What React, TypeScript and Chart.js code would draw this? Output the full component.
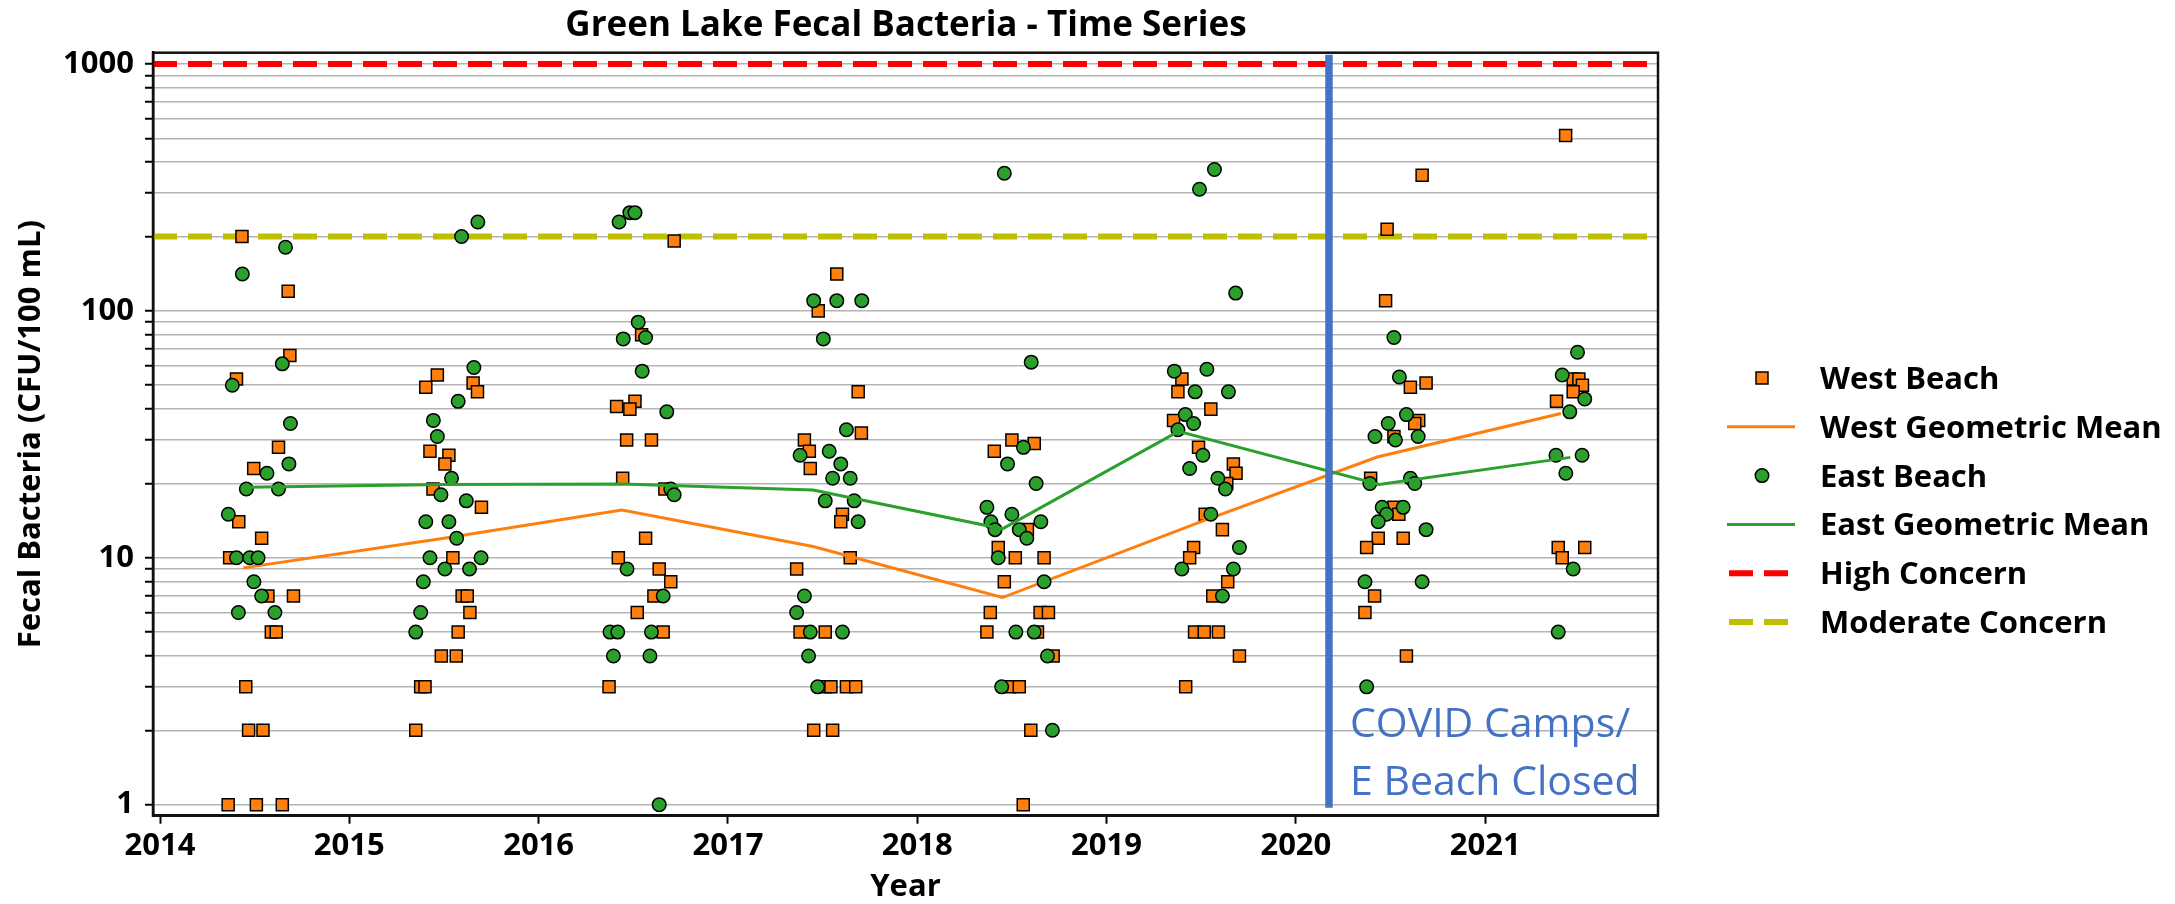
import React, { useEffect, useRef } from 'react';
import { Chart, registerables } from 'chart.js';

Chart.register(...registerables);

// ---------------- data ----------------
const yearTicks = [2014, 2015, 2016, 2017, 2018, 2019, 2020, 2021];
const yLabelTicks = [1, 10, 100, 1000];
const yMinorSteps = [1, 2, 3, 4, 5, 6, 7, 8, 9];

const highConcern = 1000;
const moderateConcern = 200;
const covidDate = 2020.175;

// [decimal year, CFU/100 mL]
const westBeach: [number, number][] = [
  [2014.433, 200], [2014.677, 120], [2014.686, 66], [2014.404, 53], [2014.626, 28], [2014.495, 23],
  [2014.416, 14], [2014.537, 12], [2014.368, 10], [2014.570, 7], [2014.705, 7], [2014.588, 5],
  [2014.614, 5], [2014.453, 3], [2014.468, 2], [2014.544, 2], [2014.360, 1], [2014.509, 1], [2014.646, 1],
  [2015.465, 55], [2015.404, 49], [2015.654, 51], [2015.677, 47], [2015.426, 27], [2015.526, 26],
  [2015.505, 24], [2015.442, 19], [2015.698, 16], [2015.547, 10], [2015.596, 7], [2015.623, 7],
  [2015.637, 6], [2015.575, 5], [2015.486, 4], [2015.565, 4], [2015.377, 3], [2015.400, 3], [2015.351, 2],
  [2016.716, 192], [2016.509, 43], [2016.412, 41], [2016.482, 40], [2016.465, 30], [2016.596, 30],
  [2016.544, 80], [2016.444, 21], [2016.667, 19], [2016.565, 12], [2016.421, 10], [2016.637, 9],
  [2016.698, 8], [2016.609, 7], [2016.521, 6], [2016.658, 5], [2016.372, 3],
  [2017.575, 141], [2017.477, 100], [2017.688, 47], [2017.705, 32], [2017.404, 30], [2017.430, 27],
  [2017.435, 23], [2017.605, 15], [2017.596, 14], [2017.646, 10], [2017.363, 9], [2017.381, 5],
  [2017.514, 5], [2017.518, 3], [2017.544, 3], [2017.626, 3], [2017.675, 3], [2017.453, 2], [2017.553, 2],
  [2018.500, 30], [2018.407, 27], [2018.618, 29], [2018.582, 13], [2018.428, 11], [2018.518, 10],
  [2018.670, 10], [2018.460, 8], [2018.386, 6], [2018.649, 6], [2018.693, 6], [2018.368, 5],
  [2018.635, 5], [2018.718, 4], [2018.489, 3], [2018.539, 3], [2018.600, 2], [2018.560, 1],
  [2019.398, 53], [2019.377, 47], [2019.354, 36], [2019.551, 40], [2019.486, 28], [2019.670, 24],
  [2019.684, 22], [2019.635, 20], [2019.521, 15], [2019.612, 13], [2019.460, 11], [2019.439, 10],
  [2019.640, 8], [2019.561, 7], [2019.465, 5], [2019.516, 5], [2019.591, 5], [2019.702, 4], [2019.418, 3],
  [2020.667, 354], [2020.482, 214], [2020.474, 110], [2020.605, 49], [2020.688, 51], [2020.649, 36],
  [2020.628, 35], [2020.518, 31], [2020.395, 21], [2020.518, 16], [2020.544, 15], [2020.435, 12],
  [2020.567, 12], [2020.374, 11], [2020.416, 7], [2020.365, 6], [2020.584, 4],
  [2021.425, 513], [2021.465, 53], [2021.495, 53], [2021.514, 50], [2021.465, 47], [2021.377, 43],
  [2021.386, 11], [2021.526, 11], [2021.407, 10],
];

const eastBeach: [number, number][] = [
  [2014.663, 181], [2014.435, 141], [2014.646, 61], [2014.382, 50], [2014.689, 35], [2014.681, 24],
  [2014.565, 22], [2014.456, 19], [2014.626, 19], [2014.361, 15], [2014.404, 10], [2014.474, 10],
  [2014.518, 10], [2014.496, 8], [2014.537, 7], [2014.414, 6], [2014.607, 6],
  [2015.593, 200], [2015.679, 229], [2015.658, 59], [2015.575, 43], [2015.444, 36], [2015.465, 31],
  [2015.540, 21], [2015.484, 18], [2015.618, 17], [2015.404, 14], [2015.526, 14], [2015.567, 12],
  [2015.426, 10], [2015.696, 10], [2015.505, 9], [2015.635, 9], [2015.391, 8], [2015.377, 6], [2015.351, 5],
  [2016.425, 229], [2016.482, 250], [2016.509, 250], [2016.526, 90], [2016.447, 77], [2016.565, 78],
  [2016.547, 57], [2016.677, 39], [2016.698, 19], [2016.716, 18], [2016.467, 9], [2016.658, 7],
  [2016.377, 5], [2016.418, 5], [2016.596, 5], [2016.395, 4], [2016.588, 4], [2016.637, 1],
  [2017.453, 110], [2017.575, 110], [2017.707, 110], [2017.504, 77], [2017.626, 33], [2017.381, 26],
  [2017.535, 27], [2017.596, 24], [2017.553, 21], [2017.646, 21], [2017.514, 17], [2017.667, 17],
  [2017.688, 14], [2017.404, 7], [2017.363, 6], [2017.435, 5], [2017.605, 5], [2017.426, 4], [2017.474, 3],
  [2018.460, 361], [2018.602, 62], [2018.561, 28], [2018.477, 24], [2018.628, 20], [2018.368, 16],
  [2018.389, 14], [2018.500, 15], [2018.653, 14], [2018.411, 13], [2018.539, 13], [2018.579, 12],
  [2018.428, 10], [2018.670, 8], [2018.521, 5], [2018.618, 5], [2018.688, 4], [2018.446, 3], [2018.714, 2],
  [2019.570, 374], [2019.491, 311], [2019.682, 118], [2019.358, 57], [2019.530, 58], [2019.468, 47],
  [2019.644, 47], [2019.416, 38], [2019.460, 35], [2019.377, 33], [2019.509, 26], [2019.439, 23],
  [2019.588, 21], [2019.628, 19], [2019.551, 15], [2019.702, 11], [2019.398, 9], [2019.670, 9], [2019.612, 7],
  [2020.518, 78], [2020.547, 54], [2020.584, 38], [2020.488, 35], [2020.418, 31], [2020.526, 30],
  [2020.646, 31], [2020.391, 20], [2020.605, 21], [2020.628, 20], [2020.456, 16], [2020.567, 16],
  [2020.479, 15], [2020.435, 14], [2020.688, 13], [2020.365, 8], [2020.667, 8], [2020.374, 3],
  [2021.488, 68], [2021.407, 55], [2021.526, 44], [2021.447, 39], [2021.374, 26], [2021.512, 26],
  [2021.426, 22], [2021.465, 9], [2021.386, 5],
];

const westGeoMean: [number, number][] = [
  [2014.44, 9.1], [2015.5, 12.0], [2016.44, 15.6], [2017.45, 11.1],
  [2018.45, 6.9], [2019.5, 14.0], [2020.43, 25.6], [2021.40, 38.4],
];

const eastGeoMean: [number, number][] = [
  [2014.456, 19.3], [2015.5, 19.8], [2016.44, 19.9], [2017.45, 18.8],
  [2018.45, 13.1], [2019.38, 32.5], [2020.44, 19.8], [2021.45, 25.5],
];

// ---------------- styles ----------------
const WEST = '#ff7f0e';
const EAST = '#2ca02c';
const HIGH = '#ff0000';
const MOD = '#bfbf00';
const COVID = '#4472c4';
const FONT = '"Open Sans", "Noto Sans", sans-serif';

const X_MIN = 2013.963;
const X_MAX = 2021.913;
const Y_MIN = 0.902;
const Y_MAX = 1111;

const toXY = (arr: [number, number][]) => arr.map(([x, y]) => ({ x, y }));
const yGridValues = yLabelTicks.flatMap((d) => (d === 1000 ? [d] : yMinorSteps.map((m) => m * d)));

const legendItems = [
  { label: 'West Beach', kind: 'rect', color: WEST },
  { label: 'West Geometric Mean', kind: 'line', color: WEST },
  { label: 'East Beach', kind: 'circle', color: EAST },
  { label: 'East Geometric Mean', kind: 'line', color: EAST },
  { label: 'High Concern', kind: 'dash', color: HIGH },
  { label: 'Moderate Concern', kind: 'dash', color: MOD },
];

const decorPlugin = {
  id: 'decor',
  afterDatasetsDraw(chart: any) {
    const { ctx, chartArea, scales } = chart;
    ctx.save();
    // frame
    ctx.strokeStyle = '#111';
    ctx.lineWidth = 2.5;
    ctx.strokeRect(chartArea.left, chartArea.top, chartArea.right - chartArea.left, chartArea.bottom - chartArea.top);

    // COVID marker line
    const cx = scales.x.getPixelForValue(covidDate);
    ctx.strokeStyle = COVID;
    ctx.lineWidth = 7.5;
    ctx.lineCap = 'butt';
    ctx.beginPath();
    ctx.moveTo(cx, chartArea.top + 2);
    ctx.lineTo(cx, chartArea.bottom - 8);
    ctx.stroke();

    ctx.fillStyle = COVID;
    ctx.font = `41px ${FONT}`;
    ctx.textAlign = 'left';
    ctx.textBaseline = 'alphabetic';
    ctx.fillText('COVID Camps/', cx + 21, chartArea.bottom - 79);
    ctx.fillText('E Beach Closed', cx + 21, chartArea.bottom - 21);
    ctx.restore();
  },
  afterDraw(chart: any) {
    const { ctx } = chart;
    ctx.save();
    // title
    ctx.fillStyle = '#000';
    ctx.font = `bold 35px ${FONT}`;
    ctx.textAlign = 'center';
    ctx.textBaseline = 'alphabetic';
    ctx.fillText('Green Lake Fecal Bacteria - Time Series', 906, 36);

    // legend
    const mx = 1762;
    const tx = 1820;
    const y0 = 378;
    const step = 48.8;
    legendItems.forEach((it, i) => {
      const cy = y0 + i * step;
      ctx.save();
      if (it.kind === 'rect') {
        ctx.fillStyle = it.color;
        ctx.strokeStyle = '#000';
        ctx.lineWidth = 1.5;
        ctx.fillRect(mx - 6, cy - 6, 12, 12);
        ctx.strokeRect(mx - 6, cy - 6, 12, 12);
      } else if (it.kind === 'circle') {
        ctx.fillStyle = it.color;
        ctx.strokeStyle = '#000';
        ctx.lineWidth = 1.5;
        ctx.beginPath();
        ctx.arc(mx, cy, 6.75, 0, Math.PI * 2);
        ctx.fill();
        ctx.stroke();
      } else if (it.kind === 'line') {
        ctx.strokeStyle = it.color;
        ctx.lineWidth = 3;
        ctx.beginPath();
        ctx.moveTo(1727, cy);
        ctx.lineTo(1795, cy);
        ctx.stroke();
      } else {
        ctx.strokeStyle = it.color;
        ctx.lineWidth = 6;
        ctx.setLineDash([24, 11]);
        ctx.beginPath();
        ctx.moveTo(1729, cy);
        ctx.lineTo(1789, cy);
        ctx.stroke();
      }
      ctx.restore();
      ctx.fillStyle = '#000';
      ctx.font = `bold 31px ${FONT}`;
      ctx.textAlign = 'left';
      ctx.textBaseline = 'alphabetic';
      ctx.fillText(it.label, tx, cy + 11);
    });
    ctx.restore();
  },
};

export default function App() {
  const canvasRef = useRef<HTMLCanvasElement | null>(null);

  useEffect(() => {
    const canvas = canvasRef.current;
    if (!canvas) return;
    const tickFont = { family: FONT, size: 31, weight: 'bold' as const };

    const chart = new Chart(canvas, {
      type: 'scatter',
      data: {
        datasets: [
          {
            label: 'East Geometric Mean',
            data: toXY(eastGeoMean),
            showLine: true,
            borderColor: EAST,
            backgroundColor: EAST,
            borderWidth: 3,
            pointRadius: 0,
            tension: 0,
          },
          {
            label: 'East Beach',
            data: toXY(eastBeach),
            pointStyle: 'circle',
            pointRadius: 6.75,
            backgroundColor: EAST,
            borderColor: '#000',
            borderWidth: 1.5,
          },
          {
            label: 'West Geometric Mean',
            data: toXY(westGeoMean),
            showLine: true,
            borderColor: WEST,
            backgroundColor: WEST,
            borderWidth: 3,
            pointRadius: 0,
            tension: 0,
          },
          {
            label: 'West Beach',
            data: toXY(westBeach),
            pointStyle: 'rect',
            pointRadius: 8.5,
            backgroundColor: WEST,
            borderColor: '#000',
            borderWidth: 1.5,
          },
          {
            label: 'Moderate Concern',
            data: [{ x: X_MIN, y: moderateConcern }, { x: X_MAX, y: moderateConcern }],
            showLine: true,
            borderColor: MOD,
            borderWidth: 6,
            borderDash: [24, 11],
            pointRadius: 0,
          },
          {
            label: 'High Concern',
            data: [{ x: X_MIN, y: highConcern }, { x: X_MAX, y: highConcern }],
            showLine: true,
            borderColor: HIGH,
            borderWidth: 6,
            borderDash: [24, 11],
            pointRadius: 0,
          },
        ],
      },
      options: {
        animation: false,
        responsive: false,
        events: [],
        layout: { padding: { top: 52.7, right: 517, bottom: 0, left: 0 } },
        plugins: {
          legend: { display: false },
          title: { display: false },
          tooltip: { enabled: false },
        },
        scales: {
          x: {
            type: 'linear',
            min: X_MIN,
            max: X_MAX,
            afterBuildTicks: (s: any) => {
              s.ticks = yearTicks.map((v) => ({ value: v }));
            },
            afterFit: (s: any) => {
              s.height = 88.3;
            },
            ticks: {
              autoSkip: false,
              maxRotation: 0,
              padding: 4,
              color: '#000',
              font: tickFont,
              callback: (v: any) => String(v),
            },
            grid: {
              drawOnChartArea: false,
              drawTicks: true,
              tickLength: 8,
              tickColor: '#000',
              tickWidth: 2,
            },
            border: { display: true, color: '#111', width: 2.5 },
            title: {
              display: true,
              text: 'Year',
              color: '#000',
              font: { family: FONT, size: 31, weight: 'bold', lineHeight: 1 },
              padding: { top: 0, bottom: 1 },
            },
          },
          y: {
            type: 'logarithmic',
            min: Y_MIN,
            max: Y_MAX,
            afterBuildTicks: (s: any) => {
              s.ticks = yGridValues.map((v) => ({ value: v, major: yLabelTicks.includes(v) }));
            },
            afterFit: (s: any) => {
              s.width = 153;
            },
            ticks: {
              autoSkip: false,
              padding: 11,
              color: '#000',
              font: tickFont,
              callback: (v: any) => (yLabelTicks.includes(Number(v)) ? String(v) : ''),
            },
            grid: {
              color: '#b4b4b4',
              lineWidth: 1.5,
              drawTicks: true,
              tickLength: 8,
              tickColor: '#000',
              tickWidth: 2,
            },
            border: { display: true, color: '#111', width: 2.5 },
            title: {
              display: true,
              text: 'Fecal Bacteria (CFU/100 mL)',
              color: '#000',
              font: { family: FONT, size: 31, weight: 'bold', lineHeight: 1.2 },
              padding: { top: 12.4, bottom: 0 },
            },
          },
        },
      },
      plugins: [decorPlugin],
    });

    return () => chart.destroy();
  }, []);

  return (
    <div style={{ position: 'absolute', left: 0, top: 0, width: 2175, height: 904, background: '#fff' }}>
      <canvas ref={canvasRef} width={2175} height={904} style={{ display: 'block', width: 2175, height: 904 }} />
    </div>
  );
}
